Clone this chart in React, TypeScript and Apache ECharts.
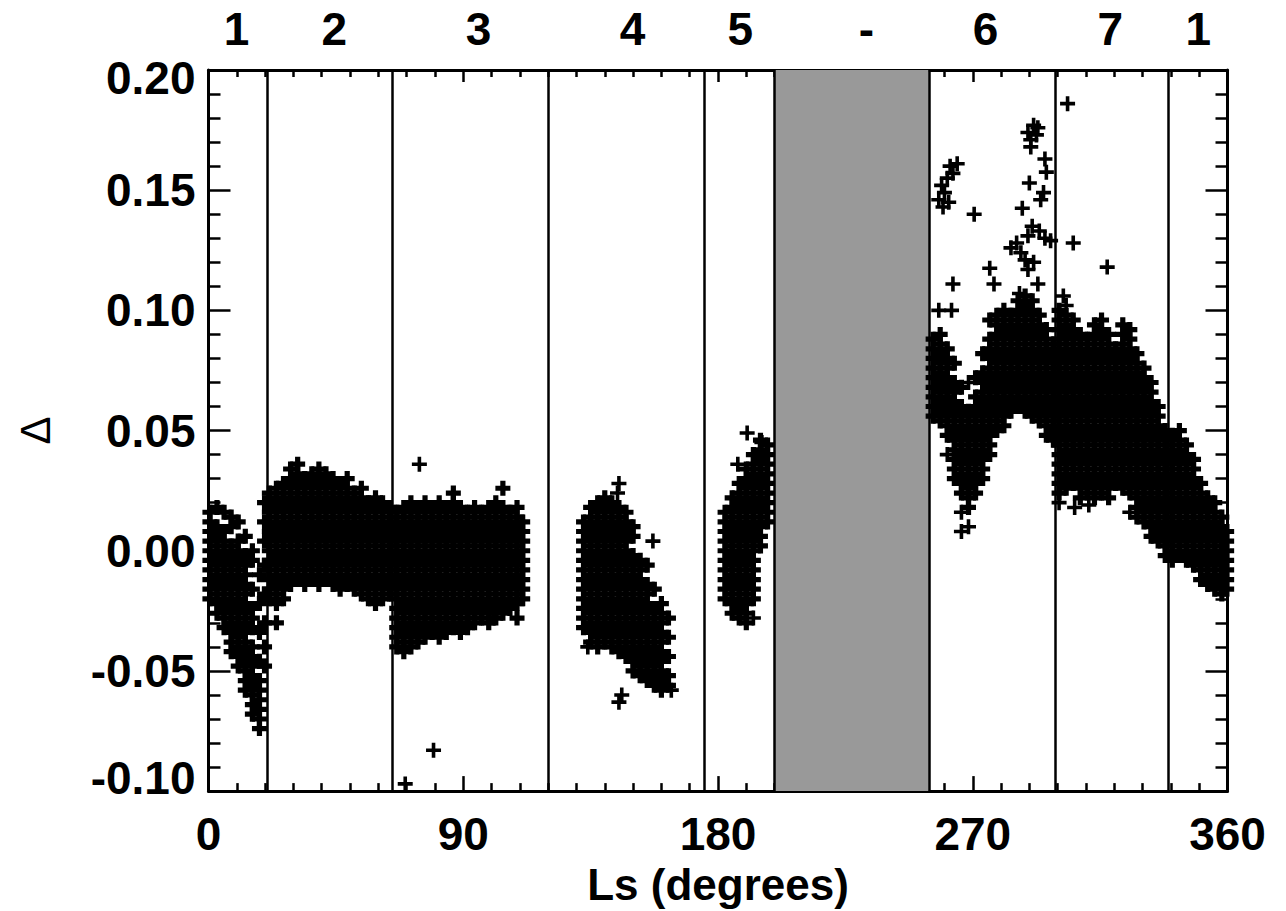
import React, { useEffect, useRef } from "react";
import * as echarts from "echarts";

// Season boundaries in Ls (degrees)
const boundaries = [20.6, 65, 120, 175.3, 200, 254.5, 299.2, 339.2];
const gapStart = 200;
const gapEnd = 254.5;
const seasonNames = ["1", "2", "3", "4", "5", "-", "6", "7", "1"];
const seasonLabelX = [9.9, 44.4, 95.4, 149.8, 187.9, 232.4, 274.5, 318.6, 349.7];
const xTicks = [0, 90, 180, 270, 360];
const yTicks = [-0.1, -0.05, 0, 0.05, 0.1, 0.15, 0.2];

const season1a: [number, number[]][] = [
  [0.5, [.016, .012, .008, .004, 0, -.004, -.008, -.012, -.016, -.02]],
  [3, [.018, .01, .006, .002, -.002, -.006, -.01, -.014, -.018, -.022, -.026]],
  [5.5, [.016, .008, .004, 0, -.004, -.008, -.012, -.016, -.02, -.024, -.028, -.032]],
  [8, [.014, .01, .002, -.002, -.006, -.01, -.014, -.018, -.022, -.026, -.03, -.034, -.038, -.042]],
  [10.5, [.012, .004, 0, -.004, -.008, -.012, -.016, -.02, -.024, -.028, -.032, -.036, -.04, -.044, -.048]],
  [13, [.006, -.002, -.006, -.01, -.014, -.018, -.022, -.026, -.03, -.034, -.038, -.042, -.046, -.05, -.054, -.058]],
  [15.5, [0, -.004, -.016, -.024, -.028, -.032, -.04, -.044, -.048, -.052, -.056, -.06, -.064, -.068]],
  [18, [-.01, -.022, -.034, -.046, -.054, -.058, -.062, -.066, -.07, -.074]],
  [19.8, [.02, .012, .004, -.006, -.018, -.03, -.04, -.048]],
];

const season2: [number, number[]][] = [
  [21.5, [.024, .02, .016, .012, .008, .004, 0, -.004, -.008, -.012, -.016, -.02]],
  [24, [.026, .022, .018, .014, .01, .006, .002, -.002, -.006, -.01, -.014, -.018, -.022, -.03]],
  [26.5, [.028, .024, .02, .016, .012, .008, .004, 0, -.004, -.008, -.012, -.016, -.02]],
  [29, [.034, .03, .026, .022, .018, .014, .01, .006, .002, -.002, -.006, -.01, -.014]],
  [31.5, [.036, .032, .028, .024, .02, .016, .012, .008, .004, 0, -.004, -.008, -.012]],
  [34, [.03, .026, .022, .018, .014, .01, .006, .002, -.002, -.006, -.01, -.014]],
  [36.5, [.032, .028, .024, .02, .016, .012, .008, .004, 0, -.004, -.008, -.012]],
  [39, [.034, .03, .026, .022, .018, .014, .01, .006, .002, -.002, -.006, -.01, -.014]],
  [41.5, [.032, .028, .024, .02, .016, .012, .008, .004, 0, -.004, -.008, -.012]],
  [44, [.03, .026, .022, .018, .014, .01, .006, .002, -.002, -.006, -.01, -.014]],
  [46.5, [.028, .024, .02, .016, .012, .008, .004, 0, -.004, -.008, -.012, -.016]],
  [49, [.03, .026, .022, .018, .014, .01, .006, .002, -.002, -.006, -.01, -.014]],
  [51.5, [.024, .02, .016, .012, .008, .004, 0, -.004, -.008, -.012, -.016]],
  [54, [.026, .022, .018, .014, .01, .006, .002, -.002, -.006, -.01, -.014, -.018]],
  [56.5, [.02, .016, .012, .008, .004, 0, -.004, -.008, -.012, -.016, -.02]],
  [59, [.022, .018, .014, .01, .006, .002, -.002, -.006, -.01, -.014, -.018, -.022]],
  [61.5, [.02, .016, .012, .008, .004, 0, -.004, -.008, -.012, -.016, -.02]],
  [64, [.018, .014, .01, .006, .002, -.002, -.006, -.01, -.014, -.018]],
];

const season3: [number, number[]][] = [
  [66.5, [.016, .012, .008, .004, 0, -.004, -.008, -.012, -.016, -.02, -.024, -.028, -.032, -.036, -.04]],
  [69, [.018, .014, .01, .006, .002, -.002, -.006, -.01, -.014, -.018, -.022, -.026, -.03, -.034, -.038, -.042]],
  [71.5, [.02, .016, .012, .008, .004, 0, -.004, -.008, -.012, -.016, -.02, -.024, -.028, -.032, -.036, -.04]],
  [74, [.018, .014, .01, .006, .002, -.002, -.006, -.01, -.014, -.018, -.022, -.026, -.03, -.034, -.038]],
  [76.5, [.02, .016, .012, .008, .004, 0, -.004, -.008, -.012, -.016, -.02, -.024, -.028, -.032, -.036]],
  [79, [.018, .014, .01, .006, .002, -.002, -.006, -.01, -.014, -.018, -.022, -.026, -.03, -.034]],
  [81.5, [.02, .016, .012, .008, .004, 0, -.004, -.008, -.012, -.016, -.02, -.024, -.028, -.032, -.036]],
  [84, [.018, .014, .01, .006, .002, -.002, -.006, -.01, -.014, -.018, -.022, -.026, -.03, -.034]],
  [86.5, [.024, .02, .016, .012, .008, .004, 0, -.004, -.008, -.012, -.016, -.02, -.024, -.028, -.032]],
  [89, [.018, .014, .01, .006, .002, -.002, -.006, -.01, -.014, -.018, -.022, -.026, -.03, -.034]],
  [91.5, [.016, .012, .008, .004, 0, -.004, -.008, -.012, -.016, -.02, -.024, -.028, -.032]],
  [94, [.018, .014, .01, .006, .002, -.002, -.006, -.01, -.014, -.018, -.022, -.026, -.03]],
  [96.5, [.016, .012, .008, .004, 0, -.004, -.008, -.012, -.016, -.02, -.024, -.028]],
  [99, [.018, .014, .01, .006, .002, -.002, -.006, -.01, -.014, -.018, -.022, -.026, -.03]],
  [101.5, [.02, .016, .012, .008, .004, 0, -.004, -.008, -.012, -.016, -.02, -.024, -.028]],
  [104, [.026, .018, .014, .01, .006, .002, -.002, -.006, -.01, -.014, -.018, -.022, -.026]],
  [106.5, [.016, .012, .008, .004, 0, -.004, -.008, -.012, -.016, -.02, -.024]],
  [109, [.018, .014, .01, .006, .002, -.002, -.006, -.01, -.014, -.018, -.022, -.028]],
  [111, [.012, .008, .004, 0, -.004, -.008, -.012, -.016, -.02]],
];

const season4: [number, number[]][] = [
  [132.5, [.012, .008, .004, 0, -.004, -.008, -.012, -.016, -.02, -.024, -.028, -.032]],
  [135, [.018, .014, .01, .006, .002, -.002, -.006, -.01, -.014, -.018, -.022, -.026, -.03, -.034, -.038]],
  [137.5, [.02, .016, .012, .008, .004, 0, -.004, -.008, -.012, -.016, -.02, -.024, -.028, -.032, -.036, -.04]],
  [140, [.022, .018, .014, .01, .006, .002, -.002, -.006, -.01, -.014, -.018, -.022, -.026, -.03, -.034, -.038]],
  [142.5, [.02, .016, .012, .008, .004, 0, -.004, -.008, -.012, -.016, -.02, -.024, -.028, -.032, -.036, -.04]],
  [145, [.018, .014, .01, .006, .002, -.002, -.006, -.01, -.014, -.018, -.022, -.026, -.03, -.034, -.038, -.042]],
  [147.5, [.016, .012, .008, .004, 0, -.004, -.008, -.012, -.016, -.02, -.024, -.028, -.032, -.036, -.04, -.044]],
  [150, [.01, .006, -.002, -.006, -.01, -.014, -.018, -.022, -.026, -.03, -.034, -.038, -.042, -.046, -.05]],
  [152.5, [-.004, -.008, -.012, -.016, -.02, -.024, -.028, -.032, -.036, -.04, -.044, -.048, -.052]],
  [155, [-.006, -.014, -.018, -.022, -.026, -.03, -.034, -.038, -.042, -.046, -.05, -.054]],
  [157.5, [-.016, -.024, -.028, -.032, -.036, -.04, -.044, -.048, -.052, -.056]],
  [160, [-.022, -.026, -.03, -.034, -.038, -.042, -.046, -.05, -.054, -.058]],
  [162.5, [-.028, -.036, -.044, -.052, -.056]],
];

const season5: [number, number[]][] = [
  [182.5, [.016, .012, .008, .004, 0, -.004, -.008, -.012, -.016, -.02]],
  [185, [.022, .018, .014, .01, .006, .002, -.002, -.006, -.01, -.014, -.018, -.022, -.026]],
  [187.5, [.028, .024, .02, .016, .012, .008, .004, 0, -.004, -.008, -.012, -.016, -.02, -.024, -.028]],
  [190, [.034, .03, .026, .022, .018, .014, .01, .006, .002, -.002, -.006, -.01, -.014, -.018, -.022, -.026, -.03]],
  [192.5, [.04, .036, .032, .028, .024, .02, .016, .012, .008, .004, 0, -.004, -.008, -.012, -.016, -.02]],
  [195, [.046, .042, .038, .034, .03, .026, .022, .018, .014, .01, .006, .002]],
  [197.5, [.044, .04, .036, .032, .028, .024, .02, .016, .012]],
];

const season6: [number, number[]][] = [
  [256, [.088, .084, .08, .076, .072, .068, .064, .06, .056]],
  [258.5, [.09, .086, .082, .078, .074, .07, .066, .062, .058, .054]],
  [261, [.084, .08, .076, .072, .068, .064, .06, .056, .052, .048]],
  [263.5, [.078, .07, .066, .062, .058, .054, .05, .046, .042, .038, .034, .03]],
  [266, [.068, .06, .056, .052, .048, .044, .04, .036, .032, .028, .024]],
  [268.5, [.058, .054, .05, .046, .042, .038, .034, .03, .026, .022, .018]],
  [271, [.072, .064, .06, .056, .052, .048, .044, .04, .036, .032, .028, .024]],
  [273.5, [.082, .074, .07, .066, .062, .058, .054, .05, .046, .042, .038, .034, .03]],
  [276, [.096, .088, .084, .08, .076, .072, .068, .064, .06, .056, .052, .048, .044, .04]],
  [278.5, [.098, .094, .09, .086, .082, .078, .074, .07, .066, .062, .058, .054, .05]],
  [281, [.1, .096, .092, .088, .084, .08, .076, .072, .068, .064, .06, .056, .052]],
  [283.5, [.098, .094, .09, .086, .082, .078, .074, .07, .066, .062, .058]],
  [286, [.104, .1, .096, .092, .088, .084, .08, .076, .072, .068, .064, .06]],
  [288.5, [.106, .102, .098, .094, .09, .086, .082, .078, .074, .07, .066, .062, .058]],
  [291, [.104, .1, .096, .092, .088, .084, .08, .076, .072, .068, .064, .06, .056]],
  [293.5, [.098, .094, .09, .086, .082, .078, .074, .07, .066, .062, .058, .054]],
  [296, [.092, .088, .084, .08, .076, .072, .068, .064, .06, .056, .052, .048]],
  [298.5, [.086, .082, .078, .074, .07, .066, .062, .058, .054, .05, .046]],
];

const season7: [number, number[]][] = [
  [300.5, [.1, .096, .092, .088, .084, .08, .076, .072, .068, .064, .06, .056, .052, .048, .044, .04, .036, .032, .028, .024]],
  [303, [.098, .094, .09, .086, .082, .078, .074, .07, .066, .062, .058, .054, .05, .046, .042, .038, .034, .03, .026]],
  [305.5, [.096, .092, .088, .084, .08, .076, .072, .068, .064, .06, .056, .052, .048, .044, .04, .036, .032, .028]],
  [308, [.09, .086, .082, .078, .074, .07, .066, .062, .058, .054, .05, .046, .042, .038, .034, .03, .026, .022]],
  [310.5, [.088, .084, .08, .076, .072, .068, .064, .06, .056, .052, .048, .044, .04, .036, .032, .028, .024]],
  [313, [.094, .09, .086, .082, .078, .074, .07, .066, .062, .058, .054, .05, .046, .042, .038, .034, .03, .026, .022]],
  [315.5, [.096, .092, .088, .084, .08, .076, .072, .068, .064, .06, .056, .052, .048, .044, .04, .036, .032, .028, .024]],
  [318, [.09, .086, .082, .078, .074, .07, .066, .062, .058, .054, .05, .046, .042, .038, .034, .03, .026, .022]],
  [320.5, [.084, .08, .076, .072, .068, .064, .06, .056, .052, .048, .044, .04, .036, .032, .028]],
  [323, [.094, .09, .086, .082, .078, .074, .07, .066, .062, .058, .054, .05, .046, .042, .038, .034, .03, .026]],
  [325.5, [.092, .088, .084, .08, .076, .072, .068, .064, .06, .056, .052, .048, .044, .04, .036, .032, .028, .024]],
  [328, [.082, .078, .074, .07, .066, .062, .058, .054, .05, .046, .042, .038, .034, .03, .026, .022, .018, .014]],
  [330.5, [.076, .072, .068, .064, .06, .056, .052, .048, .044, .04, .036, .032, .028, .024, .02, .016, .012]],
  [333, [.07, .066, .062, .058, .054, .05, .046, .042, .038, .034, .03, .026, .022, .018, .014, .01, .006]],
  [335.5, [.06, .056, .052, .048, .044, .04, .036, .032, .028, .024, .02, .016, .012, .008, .004]],
  [338, [.05, .046, .042, .038, .034, .03, .026, .022, .018, .014, .01, .006, .002, -.002]],
];

const season1b: [number, number[]][] = [
  [340.5, [.048, .044, .04, .036, .032, .028, .024, .02, .016, .012, .008, .004, 0, -.004]],
  [343, [.05, .046, .042, .038, .034, .03, .026, .022, .018, .014, .01, .006, .002, -.002]],
  [345.5, [.044, .04, .036, .032, .028, .024, .02, .016, .012, .008, .004, 0, -.004]],
  [348, [.038, .034, .03, .026, .022, .018, .014, .01, .006, .002, -.002, -.006]],
  [350.5, [.028, .024, .02, .016, .012, .008, .004, 0, -.004, -.008, -.012]],
  [353, [.022, .018, .014, .01, .006, .002, -.002, -.006, -.01, -.014]],
  [355.5, [.02, .016, .012, .008, .004, 0, -.004, -.008, -.012, -.016]],
  [358, [.014, .01, .006, .002, -.002, -.006, -.01, -.014, -.018]],
  [359.7, [.008, .004, 0, -.004, -.008, -.012, -.016]],
];

// isolated points
const outliers: [number, number][] = [
  [74.5, .036], [69.5, -.097], [79.5, -.083], [92, -.03], [100.5, -.028],
  [146, -.06], [145, -.063], [163.5, -.058], [144.5, .024], [145, .028], [134, -.04],
  [157, .004], [190.3, .049], [195.5, .045], [187, .036], [192.5, -.028],
  [258, .146], [259, .152], [260, .149], [261, .155], [262, .16], [263, .157],
  [259.5, .143], [261.5, .145], [264.5, .161], [270.5, .14],
  [258, .1], [262.5, .1], [263, .111], [276, .1175], [277.5, .111],
  [283.5, .126], [285.5, .128], [287, .124], [288.5, .121], [289.5, .117],
  [291.5, .12], [293, .111], [286.5, .107], [289.5, .131], [291, .135],
  [293.5, .133], [295.5, .13], [297.5, .129], [290, .153], [287.5, .1425],
  [294, .146], [295, .149], [295.5, .163], [296, .1575], [289.5, .174],
  [290.5, .171], [291.5, .177], [292.5, .173], [293, .176], [290.5, .168],
  [261, .04], [266, .016], [266, .008], [268.5, .01], [268.5, .07],
  [303.5, .186], [305.5, .128], [317.5, .118], [302, .106], [303, .102],
  [300.5, .02], [311, .019], [306, .018], [325.5, .016],
];

const PLUS_BOLD = "path://M4.9 0H10.1V4.9H15V10.1H10.1V15H4.9V10.1H0V4.9H4.9Z";
const PLUS = "path://M5.7 0H9.3V5.7H15V9.3H9.3V15H5.7V9.3H0V5.7H5.7Z";
const FONT = "'Liberation Sans', Arial, Helvetica, sans-serif";

export default function App() {
  const ref = useRef<HTMLDivElement>(null);
  useEffect(() => {
    if (!ref.current) return;
    const chart = echarts.init(ref.current, undefined, { renderer: "svg" });
    const cols = [
      ...season1a, ...season2, ...season3, ...season4,
      ...season5, ...season6, ...season7, ...season1b,
    ];
    const points: [number, number][] = [];
    cols.forEach(([x, ys]) => ys.forEach((y) => points.push([x, y])));

    const tickLabelStyle = {
      fontFamily: FONT, fontSize: 46, fontWeight: "bold" as const, color: "#000",
    };
    const common = (extra: any) => ({
      type: "value",
      axisLine: { show: true, onZero: false, lineStyle: { color: "#000", width: 3 } },
      splitLine: { show: false },
      ...extra,
    });

    chart.setOption({
      animation: false,
      backgroundColor: "#fff",
      textStyle: { fontFamily: FONT },
      grid: { left: 208.5, right: 58.5, top: 70, bottom: 119.3, containLabel: false },
      xAxis: [
        common({
          position: "bottom", min: 0, max: 360, interval: 90,
          axisTick: { show: true, inside: true, length: 15, lineStyle: { color: "#000", width: 2.5 } },
          minorTick: { show: true, splitNumber: 9, length: 8, lineStyle: { color: "#000", width: 2.5 } },
          axisLabel: { ...tickLabelStyle, margin: 20, formatter: (v: number) => (xTicks.includes(v) ? String(v) : "") },
          name: "Ls (degrees)", nameLocation: "middle", nameGap: 70,
          nameTextStyle: { fontFamily: FONT, fontSize: 44, fontWeight: "bold", color: "#000" },
        }),
        common({
          position: "top", min: 0, max: 360, interval: 90,
          axisTick: { show: true, inside: true, length: 12, lineStyle: { color: "#000", width: 2.5 } },
          minorTick: { show: true, splitNumber: 9, length: 7, lineStyle: { color: "#000", width: 2.5 } },
          axisLabel: { show: false },
        }),
      ],
      yAxis: [
        common({
          position: "left", min: -0.1, max: 0.2, interval: 0.05,
          axisTick: { show: true, inside: true, length: 22, lineStyle: { color: "#000", width: 2.5 } },
          minorTick: { show: true, splitNumber: 5, length: 12, lineStyle: { color: "#000", width: 2.5 } },
          axisLabel: {
            ...tickLabelStyle, margin: 13,
            formatter: (v: number) => {
              const s = v.toFixed(2);
              if (v > 0.199) return "{t|" + s + "}";
              if (v < -0.099) return "{b|" + s + "}";
              return yTicks.some((t) => Math.abs(t - v) < 1e-9) ? s : "";
            },
            rich: {
              t: { ...tickLabelStyle, padding: [16, 0, 0, 0] },
              b: { ...tickLabelStyle, padding: [0, 0, 26, 0] },
            },
          },
          name: "Δ", nameLocation: "middle", nameRotate: 90, nameGap: 152,
          nameTextStyle: { fontFamily: FONT, fontSize: 42, fontWeight: "normal", color: "#000" },
        }),
        common({
          position: "right", min: -0.1, max: 0.2, interval: 0.05,
          axisTick: { show: true, inside: true, length: 22, lineStyle: { color: "#000", width: 2.5 } },
          minorTick: { show: true, splitNumber: 5, length: 12, lineStyle: { color: "#000", width: 2.5 } },
          axisLabel: { show: false },
        }),
      ],
      series: [
        {
          type: "scatter",
          xAxisIndex: 0, yAxisIndex: 0,
          data: [],
          silent: true,
          z: 1,
          markArea: {
            silent: true,
            itemStyle: { color: "#999999" },
            data: [[{ xAxis: gapStart }, { xAxis: gapEnd }]],
          },
          markLine: {
            silent: true,
            symbol: "none",
            label: { show: false },
            lineStyle: { color: "#000", width: 2.5, type: "solid" },
            data: boundaries.map((b) => ({ xAxis: b })),
          },
        },
        {
          type: "scatter",
          xAxisIndex: 0, yAxisIndex: 0,
          data: points,
          symbol: PLUS_BOLD,
          symbolSize: 15,
          itemStyle: { color: "#000", opacity: 1 },
          clip: false,
          silent: true,
          z: 3,
        },
        {
          type: "scatter",
          xAxisIndex: 0, yAxisIndex: 0,
          data: outliers,
          symbol: PLUS,
          symbolSize: 15,
          itemStyle: { color: "#000", opacity: 1 },
          clip: false,
          silent: true,
          z: 3,
        },
        {
          type: "scatter",
          xAxisIndex: 0, yAxisIndex: 0,
          data: seasonLabelX.map((x, i) => [x, 0.2, seasonNames[i]]),
          symbol: "circle",
          symbolSize: 0.01,
          itemStyle: { color: "#000", opacity: 1 },
          clip: false,
          silent: true,
          label: {
            show: true,
            position: "inside",
            offset: [0, -41],
            formatter: (p: any) => p.data[2],
            ...tickLabelStyle,
            opacity: 1,
            textBorderWidth: 0,
          },
          z: 4,
        },
      ],
    });
    return () => chart.dispose();
  }, []);
  return (
    <div
      ref={ref}
      style={{ position: "fixed", left: 0, top: 0, width: 1286, height: 911, background: "#fff" }}
    />
  );
}
